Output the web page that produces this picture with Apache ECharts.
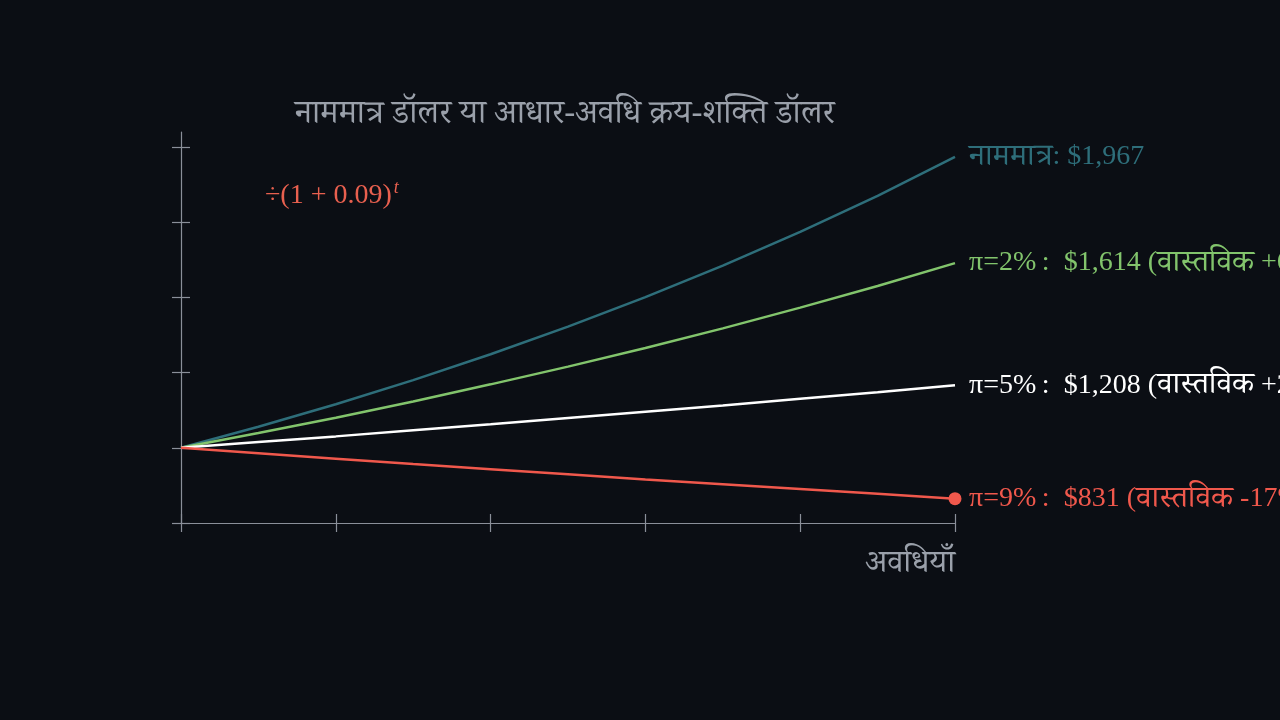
<!DOCTYPE html>
<html>
<head>
<meta charset="utf-8">
<script src="https://cdn.jsdelivr.net/npm/echarts@6/dist/echarts.min.js"></script>
<style>
  html, body { margin: 0; padding: 0; background: #0b0e14; }
  #chart { width: 1280px; height: 720px; }
</style>
</head>
<body>
<div id="chart"></div>
<script>
// periods 0..10
const periods = [0, 1, 2, 3, 4, 5, 6, 7, 8, 9, 10];
// nominal dollars and real (base-period) dollars at three inflation rates
const nominal = [1000, 1070, 1145, 1225, 1311, 1403, 1501, 1606, 1718, 1838, 1967];
const real2 = [1000, 1049, 1100, 1154, 1211, 1270, 1332, 1397, 1466, 1538, 1614];
const real5 = [1000, 1019, 1038, 1058, 1078, 1099, 1120, 1141, 1163, 1185, 1208];
const real9 = [1000, 982, 964, 946, 929, 912, 895, 879, 863, 847, 831];
// end labels, split in {d|...} devanagari and {l|...} latin parts
const endLabels = [
  "{d|नाममात्र}{l|: $1,967}",
  "{l|π=2%\u2009:\u2002$1,614 (}{d|वास्तविक}{l| +61%)}",
  "{l|π=5%\u2009:\u2002$1,208 (}{d|वास्तविक}{l| +21%)}",
  "{l|π=9%\u2009:\u2002$831 (}{d|वास्तविक}{l| -17%)}"
];

const FONT = "'Liberation Serif', 'Noto Serif Devanagari', 'Noto Sans Devanagari', serif";
const AXIS = "#8a8f99";

const pairs = (ys) => periods.map((x, i) => [x, ys[i]]);

function lineSeries(ys, color, label, dot) {
  return {
    type: "line",
    xAxisIndex: 0,
    yAxisIndex: 0,
    data: pairs(ys),
    symbol: "circle",
    symbolSize: (v, p) => (dot && p.dataIndex === periods.length - 1 ? 13 : 0),
    showSymbol: dot,
    itemStyle: { color: color },
    lineStyle: { color: color, width: 2.5 },
    endLabel: {
      show: true,
      formatter: label,
      distance: 14,
      rich: {
        l: { color: color, fontFamily: FONT, fontSize: 28 },
        d: { color: color, fontFamily: FONT, fontSize: 31 }
      }
    },
    silent: true,
    animation: false
  };
}

const tickLine = { color: AXIS, width: 1.2 };

const myChart = echarts.init(document.getElementById("chart"));
const option = {
  backgroundColor: "#0b0e14",
  animation: false,
  title: {
    text: "नाममात्र डॉलर या आधार-अवधि क्रय-शक्ति डॉलर",
    left: 290,
    top: 93,
    textStyle: { color: "#9aa0aa", fontFamily: FONT, fontSize: 33, fontWeight: "normal" }
  },
  grid: [
    { left: 181, right: 325, top: 132, bottom: 197 },
    // tick grid: y ticks stop at 2000 while the axis line runs on to the top
    { left: 181, right: 325, top: 147, bottom: 197 }
  ],
  xAxis: [
    {
      gridIndex: 0, type: "value", min: 0, max: 10, interval: 2,
      axisLine: { lineStyle: tickLine },
      axisTick: { lineStyle: tickLine, length: 9 },
      axisLabel: { show: false },
      splitLine: { show: false },
      name: "अवधियाँ",
      nameLocation: "end",
      nameGap: 0,
      nameTextStyle: {
        color: "#9aa0aa", fontFamily: FONT, fontSize: 32,
        align: "right", verticalAlign: "top", padding: [25, 0, 0, 0]
      }
    },
    {
      gridIndex: 0, type: "value", min: 0, max: 10, interval: 2, position: "bottom",
      axisLine: { show: false },
      axisTick: { inside: true, lineStyle: tickLine, length: 9 },
      axisLabel: { show: false },
      splitLine: { show: false }
    },
    { gridIndex: 1, type: "value", min: 0, max: 10, show: false }
  ],
  yAxis: [
    {
      gridIndex: 0, type: "value", min: 750, max: 2050, interval: 250,
      axisLine: { show: true, lineStyle: tickLine },
      axisTick: { show: false },
      axisLabel: { show: false },
      splitLine: { show: false }
    },
    {
      gridIndex: 1, type: "value", min: 750, max: 2000, interval: 250,
      axisLine: { show: false },
      axisTick: { show: true, lineStyle: tickLine, length: 9 },
      axisLabel: { show: false },
      splitLine: { show: false }
    },
    {
      gridIndex: 1, type: "value", min: 750, max: 2000, interval: 250, position: "left",
      axisLine: { show: false },
      axisTick: { show: true, inside: true, lineStyle: tickLine, length: 9 },
      axisLabel: { show: false },
      splitLine: { show: false }
    }
  ],
  graphic: [
    {
      type: "text",
      left: 265,
      top: 179,
      style: {
        text: "÷(1 + 0.09){s|t}",
        fill: "#e8604f",
        font: "28px " + FONT,
        rich: { s: { fontSize: 18, fontStyle: "italic", verticalAlign: "top", padding: [0, 0, 16, 2], fill: "#e8604f", fontFamily: FONT } }
      }
    }
  ],
  series: [
    lineSeries(nominal, "#2e6e7a", endLabels[0], false),
    lineSeries(real2, "#82c46c", endLabels[1], false),
    lineSeries(real5, "#ffffff", endLabels[2], false),
    lineSeries(real9, "#f0584c", endLabels[3], true)
  ]
};
option && myChart.setOption(option);
</script>
</body>
</html>
